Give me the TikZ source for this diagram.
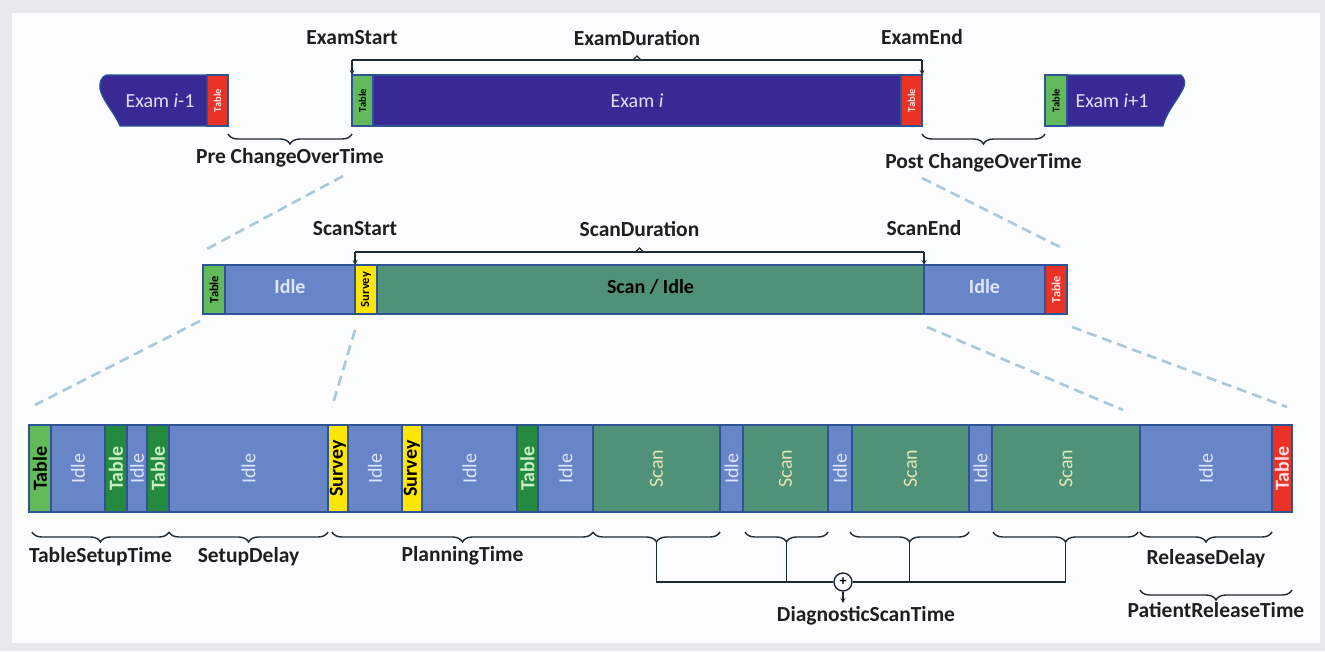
\documentclass[tikz,border=0pt]{standalone}
\usepackage{fontspec}
\setmainfont{Carlito}
\usetikzlibrary{positioning,calc,decorations.pathreplacing}

\definecolor{examblue}{RGB}{56,42,148}
\definecolor{idleblue}{RGB}{104,134,199}
\definecolor{scanteal}{RGB}{80,146,120}
\definecolor{tablelight}{RGB}{98,186,90}
\definecolor{tabledark}{RGB}{38,138,62}
\definecolor{surveyyel}{RGB}{255,230,0}
\definecolor{tablered}{RGB}{234,50,38}
\definecolor{segline}{RGB}{46,84,150}
\definecolor{bracecol}{RGB}{30,42,52}
\definecolor{zoomcol}{RGB}{170,200,216}
\definecolor{framegray}{RGB}{233,233,237}
\definecolor{paper}{RGB}{251,252,254}
\definecolor{textlav}{RGB}{228,222,246}
\definecolor{idletext}{RGB}{222,230,250}
\definecolor{scantext}{RGB}{228,228,178}
\definecolor{greentext}{RGB}{200,240,200}

\newcommand{\vt}[1]{\rotatebox{90}{#1}}

\begin{document}
\begin{tikzpicture}[
    x=1pt, y=-1pt,
    seg/.style={rectangle, draw=segline, line width=1.1pt,
      inner sep=0pt, outer sep=0pt},
    topseg/.style={seg, minimum height=51pt, font=\fontsize{10.5}{12}\selectfont},
    midseg/.style={seg, minimum height=49pt, font=\fontsize{12.5}{14}\selectfont},
    botseg/.style={seg, minimum height=87pt, font=\fontsize{20}{24}\selectfont},
    idle/.style={fill=idleblue, text=idletext},
    scan/.style={fill=scanteal, text=scantext},
    tabl/.style={fill=tablelight, text=black},
    tabd/.style={fill=tabledark, text=greentext},
    tabr/.style={fill=tablered, text=white!88!red},
    surv/.style={fill=surveyyel, text=black},
    exam/.style={fill=examblue, text=textlav},
    lbl/.style={font=\fontsize{21.5}{25}\selectfont\bfseries, text=black!88},
    brc/.style={decorate, decoration={brace, amplitude=10pt, mirror},
      draw=bracecol, line width=1.4pt},
    dimln/.style={draw=bracecol, line width=1.2pt, >=stealth},
    zoomln/.style={draw=zoomcol, line width=2.6pt, dash pattern=on 10pt off 6pt}
  ]

  \useasboundingbox (0,0) rectangle (1325,651);
  \fill[framegray] (0,0) rectangle (1325,651);
  \fill[paper] (12,13) rectangle (1320,643);

  % zoom guides
  \draw[zoomln] (343,176) -- (205,250);
  \draw[zoomln] (922,178) -- (1062,248);
  \draw[zoomln] (200,321) -- (35,405);
  \draw[zoomln] (355,330) -- (332,407);
  \draw[zoomln] (927,327) -- (1123,410);
  \draw[zoomln] (1072,327) -- (1287,407);

  % exam row
  \node[topseg, tabl, minimum width=21pt, anchor=west] (tbA) at (352,100.5) {\vt{\bfseries Table}};
  \node[topseg, exam, minimum width=528pt, right=0pt of tbA, font=\fontsize{20}{24}\selectfont] (examI) {Exam \textit{i}};
  \node[topseg, tabr, minimum width=21pt, right=0pt of examI] (tbB) {\vt{\bfseries Table}};

  \node[topseg, tabr, minimum width=21pt, anchor=east] (tbP) at (228,100.5) {\vt{\bfseries Table}};
  \filldraw[fill=examblue, draw=segline, line width=1.1pt]
    (tbP.south west) -- (120,126) .. controls (114,112) and (102,100) .. (100,89)
    .. controls (99,83) and (101,77) .. (106,75) -- (tbP.north west) -- cycle;
  \node[text=textlav, font=\fontsize{20}{24}\selectfont] (examPrev) at (160,100.5) {Exam \textit{i}-1};

  \node[topseg, tabl, minimum width=22pt, anchor=west] (tbN) at (1045,100.5) {\vt{\bfseries Table}};
  \filldraw[fill=examblue, draw=segline, line width=1.1pt]
    (tbN.north east) -- (1181,75) .. controls (1185,78) and (1186,84) .. (1183,89)
    .. controls (1177,101) and (1166,113) .. (1163,126) -- (tbN.south east) -- cycle;
  \node[text=textlav, font=\fontsize{20}{24}\selectfont] (examNext) at (1112,100.5) {Exam \textit{i}+1};

  \coordinate (esTop) at ([yshift=15pt]tbA.north west);
  \coordinate (eeTop) at ([yshift=15pt]tbB.north east);
  \coordinate (edMid) at ($(esTop)!.5!(eeTop)$);
  \draw[dimln] (esTop) -- (eeTop);
  \draw[dimln] ([xshift=-4pt]edMid) -- ([yshift=4pt]edMid) -- ([xshift=4pt]edMid);
  \draw[dimln, ->] (esTop) -- (tbA.north west);
  \draw[dimln, ->] (eeTop) -- (tbB.north east);
  \node[lbl, above=12pt of esTop] (examStart) {ExamStart};
  \node[lbl, above=12pt of eeTop] (examEnd) {ExamEnd};
  \node[lbl, above=11pt of edMid] (examDur) {ExamDuration};

  \coordinate (preL) at ([yshift=-8pt]tbP.south east);
  \coordinate (preR) at ([yshift=-8pt]tbA.south west);
  \draw[brc] (preL) -- (preR);
  \node[lbl, below=11pt of $(preL)!.5!(preR)$] (preCO) {Pre ChangeOverTime};
  \coordinate (postL) at ([yshift=-8pt]tbB.south east);
  \coordinate (postR) at ([yshift=-8pt]tbN.south west);
  \draw[brc] (postL) -- (postR);
  \node[lbl, below=16pt of $(postL)!.5!(postR)$] (postCO) {Post ChangeOverTime};

  % scan row
  \node[midseg, tabl, minimum width=22pt, anchor=west] (tbM1) at (203,289.5) {\vt{\bfseries Table}};
  \node[midseg, idle, minimum width=130pt, right=0pt of tbM1, font=\fontsize{20}{24}\selectfont\bfseries] (idleM1) {\raisebox{6pt}{Idle}};
  \node[midseg, surv, minimum width=22pt, right=0pt of idleM1] (survM) {\vt{\bfseries Survey}};
  \node[midseg, scan, minimum width=547pt, right=0pt of survM, text=black, font=\fontsize{20}{24}\selectfont\bfseries] (scanM) {\raisebox{6pt}{Scan / Idle}};
  \node[midseg, idle, minimum width=121pt, right=0pt of scanM, font=\fontsize{20}{24}\selectfont\bfseries] (idleM2) {\raisebox{6pt}{Idle}};
  \node[midseg, tabr, minimum width=22pt, right=0pt of idleM2] (tbM2) {\vt{\bfseries Table}};

  \coordinate (ssTop) at ([yshift=13pt]survM.north west);
  \coordinate (seTop) at ([yshift=13pt]idleM2.north west);
  \coordinate (sdMid) at ($(ssTop)!.5!(seTop)$);
  \draw[dimln] (ssTop) -- (seTop);
  \draw[dimln] ([xshift=-4pt]sdMid) -- ([yshift=4pt]sdMid) -- ([xshift=4pt]sdMid);
  \draw[dimln, ->] (ssTop) -- (survM.north west);
  \draw[dimln, ->] (seTop) -- (idleM2.north west);
  \node[lbl, above=13pt of ssTop] (scanStart) {ScanStart};
  \node[lbl, above=13pt of seTop] (scanEnd) {ScanEnd};
  \node[lbl, above=12pt of sdMid] (scanDur) {ScanDuration};

  % detail row
  \node[botseg, tabl, minimum width=22pt, anchor=west] (t1) at (29,468.5) {\vt{\bfseries Table}};
  \node[botseg, idle, minimum width=54pt, right=0pt of t1] (i1) {\vt{Idle}};
  \node[botseg, tabd, minimum width=22pt, right=0pt of i1] (t2) {\vt{\bfseries Table}};
  \node[botseg, idle, minimum width=20pt, right=0pt of t2] (i2) {\vt{Idle}};
  \node[botseg, tabd, minimum width=22pt, right=0pt of i2] (t3) {\vt{\bfseries Table}};
  \node[botseg, idle, minimum width=159pt, right=0pt of t3] (i3) {\vt{Idle}};
  \node[botseg, surv, minimum width=20pt, right=0pt of i3] (s1) {\vt{\bfseries Survey}};
  \node[botseg, idle, minimum width=54pt, right=0pt of s1] (i4) {\vt{Idle}};
  \node[botseg, surv, minimum width=20pt, right=0pt of i4] (s2) {\vt{\bfseries Survey}};
  \node[botseg, idle, minimum width=95pt, right=0pt of s2] (i5) {\vt{Idle}};
  \node[botseg, tabd, minimum width=21pt, right=0pt of i5] (t4) {\vt{\bfseries Table}};
  \node[botseg, idle, minimum width=55pt, right=0pt of t4] (i6) {\vt{Idle}};
  \node[botseg, scan, minimum width=127pt, right=0pt of i6] (sc1) {\vt{Scan}};
  \node[botseg, idle, minimum width=23pt, right=0pt of sc1] (i7) {\vt{Idle}};
  \node[botseg, scan, minimum width=85pt, right=0pt of i7] (sc2) {\vt{Scan}};
  \node[botseg, idle, minimum width=24pt, right=0pt of sc2] (i8) {\vt{Idle}};
  \node[botseg, scan, minimum width=117pt, right=0pt of i8] (sc3) {\vt{Scan}};
  \node[botseg, idle, minimum width=23pt, right=0pt of sc3] (i9) {\vt{Idle}};
  \node[botseg, scan, minimum width=148pt, right=0pt of i9] (sc4) {\vt{Scan}};
  \node[botseg, idle, minimum width=132pt, right=0pt of sc4] (i10) {\vt{Idle}};
  \node[botseg, tabr, minimum width=20pt, right=0pt of i10] (t5) {\vt{\bfseries Table}};

  % braces under the detail row
  \draw[brc] ([shift={(3pt,-20pt)}]t1.south west) -- ([yshift=-20pt]t3.south east)
    coordinate[pos=.5] (tsMid);
  \node[lbl, below=12pt of tsMid] (tsTime) {TableSetupTime};
  \draw[brc] ([yshift=-20pt]i3.south west) -- ([yshift=-20pt]i3.south east)
    coordinate[pos=.5] (sdlMid);
  \node[lbl, below=12pt of sdlMid] (setupDelay) {SetupDelay};
  \draw[brc] ([shift={(4pt,-20pt)}]s1.south west) -- ([yshift=-20pt]i6.south east)
    coordinate[pos=.5] (plMid);
  \node[lbl, below=11pt of plMid] (planTime) {PlanningTime};

  \draw[brc] ([yshift=-20pt]sc1.south west) -- ([yshift=-20pt]sc1.south east)
    coordinate[pos=.5] (sc1Mid);
  \draw[brc] ([shift={(2pt,-20pt)}]sc2.south west) -- ([yshift=-20pt]sc2.south east)
    coordinate[pos=.5] (sc2Mid);
  \draw[brc] ([shift={(-2pt,-20pt)}]sc3.south west) -- ([yshift=-20pt]sc3.south east)
    coordinate[pos=.5] (sc3Mid);
  \draw[brc] ([shift={(1pt,-20pt)}]sc4.south west) -- ([shift={(-2pt,-20pt)}]sc4.south east)
    coordinate[pos=.5] (sc4Mid);
  \coordinate (sc1Tip) at ([yshift=-10pt]sc1Mid);
  \coordinate (sc2Tip) at ([yshift=-10pt]sc2Mid);
  \coordinate (sc3Tip) at ([yshift=-10pt]sc3Mid);
  \coordinate (sc4Tip) at ([yshift=-10pt]sc4Mid);

  \node[circle, draw=bracecol, line width=1.4pt, fill=paper, minimum size=18pt,
    inner sep=0pt, font=\fontsize{14}{14}\selectfont\bfseries] (sum) at (843,582) {+};
  \draw[dimln] (sc1Tip) |- (sum);
  \draw[dimln] (sc4Tip) |- (sum);
  \draw[dimln] (sc2Tip) -- (sc2Tip |- sum.center);
  \draw[dimln] (sc3Tip) -- (sc3Tip |- sum.center);
  \node[lbl] (diagTime) at (866,616) {DiagnosticScanTime};
  \draw[dimln, ->] (sum) -- (sum |- diagTime.north);

  \draw[brc] ([yshift=-20pt]i10.south west) -- ([yshift=-20pt]i10.south east)
    coordinate[pos=.5] (rdMid);
  \node[lbl, below=14pt of rdMid] (relDelay) {ReleaseDelay};
  \draw[brc] ([yshift=-78pt]i10.south west) -- ([yshift=-78pt]t5.south east)
    coordinate[pos=.5] (prMid);
  \node[lbl, below=9pt of prMid] (patRel) {PatientReleaseTime};
\end{tikzpicture}
\end{document}
